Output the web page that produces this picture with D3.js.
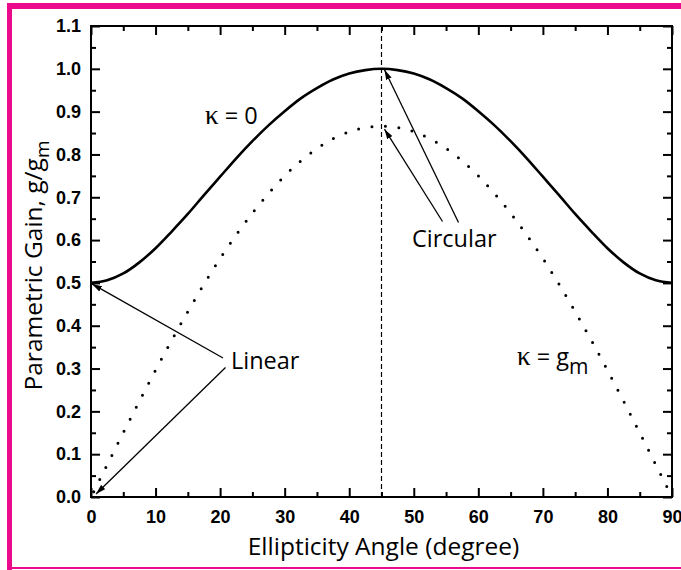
<!DOCTYPE html>
<html>
<head>
<meta charset="utf-8">
<script src="https://cdn.jsdelivr.net/npm/d3@7"></script>
<style>
  html, body { margin: 0; padding: 0; background: #fff; }
  svg { display: block; }
</style>
</head>
<body>
<svg id="chart" width="681" height="570"></svg>
<script>
// Ellipticity angle (degrees) and normalised parametric gain g/gm
const angles  = [0, 2.5, 5, 7.5, 10, 12.5, 15, 17.5, 20, 22.5, 25, 27.5, 30, 32.5, 35, 37.5, 40, 42.5, 45,
                 47.5, 50, 52.5, 55, 57.5, 60, 62.5, 65, 67.5, 70, 72.5, 75, 77.5, 80, 82.5, 85, 87.5, 90];
// kappa = 0
const gainK0  = [0.500, 0.506, 0.522, 0.548, 0.581, 0.620, 0.661, 0.705, 0.748, 0.791, 0.831, 0.868, 0.901,
                 0.931, 0.955, 0.975, 0.989, 0.997, 1.000, 0.997, 0.989, 0.975, 0.955, 0.931, 0.901, 0.868,
                 0.831, 0.791, 0.748, 0.705, 0.661, 0.620, 0.581, 0.548, 0.522, 0.506, 0.500];
// kappa = gm
const gainKgm = [0.000, 0.075, 0.150, 0.224, 0.296, 0.366, 0.433, 0.497, 0.557, 0.612, 0.663, 0.709, 0.750,
                 0.785, 0.814, 0.837, 0.853, 0.863, 0.866, 0.863, 0.853, 0.837, 0.814, 0.785, 0.750, 0.709,
                 0.663, 0.612, 0.557, 0.497, 0.433, 0.366, 0.296, 0.224, 0.150, 0.075, 0.000];

const xMajor = [0, 10, 20, 30, 40, 50, 60, 70, 80, 90];
const xMinor = [5, 15, 25, 35, 45, 55, 65, 75, 85];
const yMajor = [0.0, 0.1, 0.2, 0.3, 0.4, 0.5, 0.6, 0.7, 0.8, 0.9, 1.0, 1.1];
const yMinor = [0.05, 0.15, 0.25, 0.35, 0.45, 0.55, 0.65, 0.75, 0.85, 0.95, 1.05];
const circularAngle = 45;

(function draw() {
  const svg = d3.select("#chart");
  const W = 681, H = 570;
  const pL = 91, pR = 672, pT = 26, pB = 497;
  const pink = "#ec0a8c";
  const tickFont = "'Liberation Sans', Arial, sans-serif";
  const textFont = "'Open Sans', 'Noto Sans', sans-serif";

  // page frame
  svg.append("rect").attr("x", 7).attr("y", 3).attr("width", W - 7).attr("height", 6).attr("fill", pink);
  svg.append("rect").attr("x", 7).attr("y", 3).attr("width", 5).attr("height", H - 3).attr("fill", pink);
  svg.append("rect").attr("x", 7).attr("y", 567).attr("width", W - 7).attr("height", 2).attr("fill", pink);

  const x = d3.scaleLinear().domain([0, 90]).range([pL, pR]);
  const y = d3.scaleLinear().domain([0, 1.1]).range([pB, pT]);

  // axes with inward ticks on all four sides
  function ticks(axisGen, scale, major, minor, transform, labels) {
    const gMin = svg.append("g").attr("transform", transform)
      .call(axisGen(scale).tickValues(minor).tickSize(-5).tickFormat(""));
    const gMaj = svg.append("g").attr("transform", transform)
      .call(axisGen(scale).tickValues(major).tickSize(-9)
        .tickFormat(labels ? d3.format(labels) : ""));
    [gMin, gMaj].forEach(g => {
      g.select(".domain").remove();
      g.selectAll("line").attr("stroke", "#000").attr("stroke-width", 2);
    });
    return gMaj;
  }
  const gx = ticks(d3.axisBottom, x, xMajor, xMinor, `translate(0,${pB})`, "d");
  gx.selectAll("text").attr("y", 13).attr("dy", "0.71em");
  ticks(d3.axisTop, x, xMajor, xMinor, `translate(0,${pT})`, null);
  const gy = ticks(d3.axisLeft, y, yMajor, yMinor, `translate(${pL},0)`, ".1f");
  gy.selectAll("text").attr("x", -10);
  ticks(d3.axisRight, y, yMajor, yMinor, `translate(${pR},0)`, null);

  svg.selectAll("g text")
    .attr("font-family", tickFont).attr("font-size", 18)
    .attr("font-weight", "bold").attr("fill", "#000");

  // plot frame
  svg.append("rect")
    .attr("x", pL).attr("y", pT)
    .attr("width", pR - pL).attr("height", pB - pT)
    .attr("fill", "none").attr("stroke", "#000").attr("stroke-width", 2);

  // vertical marker at circular polarisation
  svg.append("line")
    .attr("x1", x(circularAngle)).attr("x2", x(circularAngle))
    .attr("y1", y(0)).attr("y2", y(1.1))
    .attr("stroke", "#000").attr("stroke-width", 1.2)
    .attr("stroke-dasharray", "5,3");

  const line = vals => d3.line()
    .x((d, i) => x(angles[i]))
    .y(d => y(d))
    .curve(d3.curveMonotoneX)(vals);

  svg.append("path").attr("d", line(gainK0))
    .attr("fill", "none").attr("stroke", "#000").attr("stroke-width", 2.6);

  svg.append("path").attr("d", line(gainKgm))
    .attr("fill", "none").attr("stroke", "#000").attr("stroke-width", 3)
    .attr("stroke-linecap", "round")
    .attr("stroke-dasharray", "0,13.5")
    .attr("stroke-dashoffset", -6);

  // arrows
  svg.append("defs").append("marker")
    .attr("id", "head").attr("viewBox", "0 0 10 6")
    .attr("refX", 10).attr("refY", 3)
    .attr("markerWidth", 10).attr("markerHeight", 6)
    .attr("markerUnits", "userSpaceOnUse")
    .attr("orient", "auto")
    .append("path").attr("d", "M0,0 L10,3 L0,6 Z").attr("fill", "#000");

  const arrows = [
    [458.5, 222.5, x(45) + 3, y(1.0) + 1],
    [442.5, 221.5, x(45) + 3, y(0.866) + 3],
    [223, 358, x(0) + 1, y(0.5) + 1],
    [225.5, 367.5, x(0) + 5, y(0) - 3]
  ];
  svg.selectAll("line.arrow").data(arrows).enter().append("line")
    .attr("class", "arrow")
    .attr("x1", d => d[0]).attr("y1", d => d[1])
    .attr("x2", d => d[2]).attr("y2", d => d[3])
    .attr("stroke", "#000").attr("stroke-width", 1.3)
    .attr("marker-end", "url(#head)");

  // annotations
  const ann = (tx, ty) => svg.append("text")
    .attr("x", tx).attr("y", ty)
    .attr("font-family", textFont).attr("font-size", 23.5).attr("fill", "#000");

  ann(412, 247).text("Circular");
  ann(231, 369).text("Linear");

  const k0 = ann(205, 124);
  k0.append("tspan").attr("font-family", "'Liberation Serif', serif").attr("font-size", 27).text("κ");
  k0.append("tspan").text(" = 0");

  const kg = ann(517, 365);
  kg.append("tspan").attr("font-family", "'Liberation Serif', serif").attr("font-size", 27).text("κ");
  kg.append("tspan").text(" = g");
  kg.append("tspan").attr("font-size", 21).attr("dy", 9).text("m");

  // axis titles
  svg.append("text")
    .attr("x", (pL + pR) / 2 + 2).attr("y", 555)
    .attr("text-anchor", "middle")
    .attr("font-family", textFont).attr("font-size", 24.5).attr("fill", "#000")
    .text("Ellipticity Angle (degree)");

  const yt = svg.append("text")
    .attr("transform", `translate(42,${(pT + pB) / 2 + 4}) rotate(-90)`)
    .attr("text-anchor", "middle")
    .attr("font-family", textFont).attr("font-size", 24.5).attr("fill", "#000");
  yt.append("tspan").text("Parametric Gain, g/g");
  yt.append("tspan").attr("font-size", 19).attr("dy", 7).text("m");
})();
</script>
</body>
</html>
